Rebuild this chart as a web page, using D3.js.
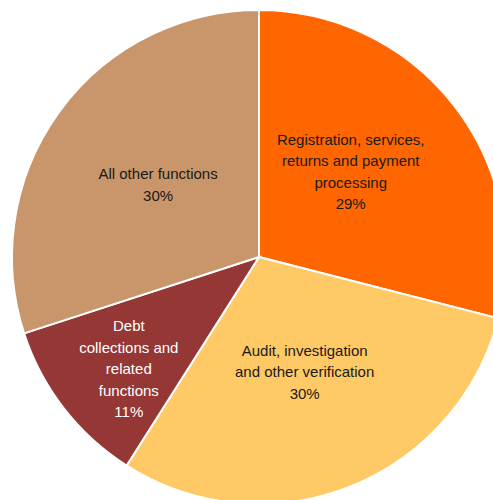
<!DOCTYPE html>
<html><head><meta charset="utf-8">
<script src="https://cdn.jsdelivr.net/npm/d3@7"></script>
<style>body{margin:0;background:#fff}svg{display:block}</style>
</head><body>
<svg id="chart" width="493" height="500"></svg>
<script>
const categories = ["Registration, services, returns and payment processing", "Audit, investigation and other verification", "Debt collections and related functions", "All other functions"];
const labelLines = [["Registration, services,", "returns and payment", "processing", "29%"], ["Audit, investigation", "and other verification", "30%"], ["Debt", "collections and", "related", "functions", "11%"], ["All other functions", "30%"]];
const values = [29, 30, 11, 30];
const colors = ["#FF6600", "#FFC966", "#953735", "#C9956A"];
const textColors = ["#1a1a1a", "#1a1a1a", "#ffffff", "#1a1a1a"];

const svg = d3.select("#chart");
const cx = 259, cy = 257, R = 247;
const g = svg.append("g").attr("transform", `translate(${cx},${cy})`);
const pie = d3.pie().sort(null).value(d => d);
const arcs = pie(values);
const arc = d3.arc().innerRadius(0).outerRadius(R);
g.selectAll("path").data(arcs).join("path")
  .attr("d", arc).attr("fill", (d, i) => colors[i])
  .attr("stroke", "#fff").attr("stroke-width", 2);

// label placement: radius and angular shift (degrees) from slice mid-angle
const labelR = [125, 124, 172, 124];
const labelShift = [-5, 0, -3, -0.5];
const lh = 21.5;
arcs.forEach((d, i) => {
  const a = (d.startAngle + d.endAngle) / 2 + labelShift[i] * Math.PI / 180;
  const x = Math.sin(a) * labelR[i], y = -Math.cos(a) * labelR[i];
  const lines = labelLines[i];
  const t = g.append("text").attr("text-anchor", "middle")
    .attr("font-family", "Liberation Sans, Arial, sans-serif").attr("font-size", 15)
    .attr("fill", textColors[i]);
  lines.forEach((ln, j) => {
    t.append("tspan").attr("x", x).attr("y", y + (j - (lines.length - 1) / 2) * lh + 5).text(ln);
  });
});
</script>
</body></html>
